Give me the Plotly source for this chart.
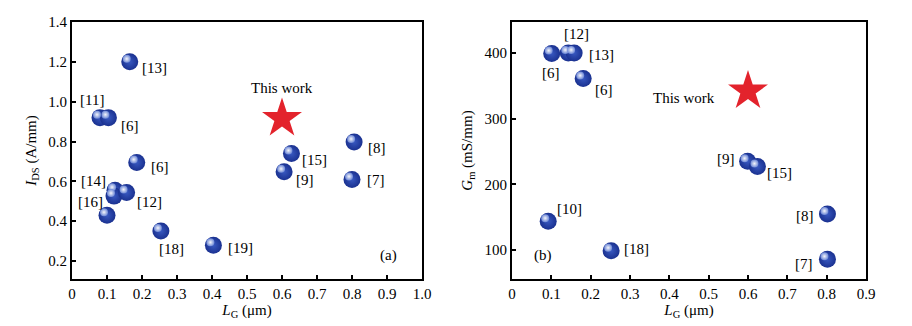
import plotly.graph_objects as go

# ---- panel (a): saturation current density vs gate length ----
a_refs = ["[13]", "[11]", "[6]", "[6]", "[14]", "[16]", "[12]", "", "[18]", "[19]", "[15]", "[9]", "[8]", "[7]"]
a_lg = [0.165, 0.080, 0.104, 0.185, 0.123, 0.120, 0.156, 0.100, 0.254, 0.404, 0.627, 0.606, 0.806, 0.800]
a_ids = [1.20, 0.92, 0.92, 0.695, 0.556, 0.526, 0.544, 0.430, 0.351, 0.279, 0.740, 0.648, 0.798, 0.610]
a_this_lg = [0.60]
a_this_ids = [0.916]

# ---- panel (b): transconductance vs gate length ----
b_refs = ["[6]", "[12]", "[13]", "[6]", "[9]", "[15]", "[10]", "[18]", "[8]", "[7]"]
b_lg = [0.101, 0.143, 0.158, 0.181, 0.599, 0.624, 0.092, 0.252, 0.802, 0.802]
b_gm = [399, 400, 400, 361, 235, 227, 144, 99, 155, 86]
b_this_lg = [0.60]
b_this_gm = [342]

# label offsets (pixels) relative to each point
a_off = [(25, -6), (-8, 18), (22, -8), (23, -5), (-22, 9), (-24, -6), (23, -9), (0, 0),
         (11, -18), (27, -3), (23, -7), (21, -8), (23, -6), (24, -1)]
b_off = [(-1, -19), (8, 19), (27, -2), (21, -11), (-22, 2), (22, -6), (21, 12), (25, 2),
         (-22, -2), (-23, -5)]

FONT = "Liberation Serif"
FS = 15
BALL = "#1a3190"
BALL_MID = "#3858c0"
STAR = "#e3232c"

# axis geometry
XA = [72 / 912, 422 / 912]
XB = [512 / 912, 866 / 912]
YD = [1 - 279 / 326, 1 - 22 / 326]
xa_rng = [0, 1.0]
ya_rng = [0.11, 1.4]
xb_rng = [0, 0.9]
yb_rng = [56, 447]

# highlight shift (px) so that the glint sits at the upper-left of each ball
HL = 3.0
def shifted(rng, span_px, px, sign):
    d = (rng[1] - rng[0]) / span_px * px * sign
    return [rng[0] + d, rng[1] + d]

fig = go.Figure()

ball = dict(size=17, color=BALL, gradient=dict(type="radial", color=BALL_MID), line=dict(width=0))
glint = dict(size=8, color="#6f8ad8", gradient=dict(type="radial", color="#ffffff"),
             line=dict(width=0), opacity=0.95)

# panel (a)
fig.add_trace(go.Scatter(x=a_lg, y=a_ids, mode="markers", marker=ball, xaxis="x", yaxis="y",
                         showlegend=False, hoverinfo="skip"))
fig.add_trace(go.Scatter(x=a_lg, y=a_ids, mode="markers", marker=glint, xaxis="x3", yaxis="y3",
                         showlegend=False, hoverinfo="skip"))
fig.add_trace(go.Scatter(x=a_this_lg, y=a_this_ids, mode="markers",
                         marker=dict(symbol="star", size=30, color=STAR, line=dict(width=0)),
                         xaxis="x", yaxis="y", showlegend=False, hoverinfo="skip"))

# panel (b)
fig.add_trace(go.Scatter(x=b_lg, y=b_gm, mode="markers", marker=ball, xaxis="x2", yaxis="y2",
                         showlegend=False, hoverinfo="skip"))
fig.add_trace(go.Scatter(x=b_lg, y=b_gm, mode="markers", marker=glint, xaxis="x4", yaxis="y4",
                         showlegend=False, hoverinfo="skip"))
fig.add_trace(go.Scatter(x=b_this_lg, y=b_this_gm, mode="markers",
                         marker=dict(symbol="star", size=30, color=STAR, line=dict(width=0)),
                         xaxis="x2", yaxis="y2", showlegend=False, hoverinfo="skip"))

ann = []
for r, x, y, (dx, dy) in zip(a_refs, a_lg, a_ids, a_off):
    if r:
        ann.append(dict(x=x, y=y, xref="x", yref="y", text=r, showarrow=False, xshift=dx, yshift=dy))
for r, x, y, (dx, dy) in zip(b_refs, b_lg, b_gm, b_off):
    ann.append(dict(x=x, y=y, xref="x2", yref="y2", text=r, showarrow=False, xshift=dx, yshift=dy))
ann.append(dict(x=a_this_lg[0], y=a_this_ids[0], xref="x", yref="y", text="This work",
                showarrow=False, yshift=30))
ann.append(dict(x=b_this_lg[0], y=b_this_gm[0], xref="x2", yref="y2", text="This work",
                showarrow=False, xshift=-64, yshift=-7))
ann.append(dict(x=0.904, y=0.226, xref="x", yref="y", text="(a)", showarrow=False))
ann.append(dict(x=0.08, y=92, xref="x2", yref="y2", text="(b)", showarrow=False))

axis_common = dict(showline=True, linecolor="black", linewidth=1.8, mirror=True, ticks="inside",
                   ticklen=4, tickwidth=1.5, tickcolor="black", showgrid=False, zeroline=False,
                   tickfont=dict(family=FONT, size=FS, color="black"), automargin=False)

fig.update_layout(
    width=912, height=326,
    margin=dict(l=0, r=0, t=0, b=0),
    paper_bgcolor="white", plot_bgcolor="white",
    font=dict(family=FONT, size=FS, color="black"),
    annotations=ann,
    xaxis=dict(domain=XA, range=xa_rng, anchor="y",
               tickvals=[0, 0.1, 0.2, 0.3, 0.4, 0.5, 0.6, 0.7, 0.8, 0.9, 1.0],
               ticktext=["0", "0.1", "0.2", "0.3", "0.4", "0.5", "0.6", "0.7", "0.8", "0.9", "1.0"],
               title=dict(text="<i>L</i><sub>G</sub> (μm)", standoff=2,
                          font=dict(family=FONT, size=FS)),
               **axis_common),
    yaxis=dict(domain=YD, range=ya_rng, anchor="x",
               tickvals=[0.2, 0.4, 0.6, 0.8, 1.0, 1.2, 1.4],
               ticktext=["0.2", "0.4", "0.6", "0.8", "1.0", "1.2", "1.4"],
               title=dict(text="<i>I</i><sub>DS</sub> (A/mm)", standoff=8,
                          font=dict(family=FONT, size=FS)),
               **axis_common),
    xaxis2=dict(domain=XB, range=xb_rng, anchor="y2",
                tickvals=[0, 0.1, 0.2, 0.3, 0.4, 0.5, 0.6, 0.7, 0.8, 0.9],
                ticktext=["0", "0.1", "0.2", "0.3", "0.4", "0.5", "0.6", "0.7", "0.8", "0.9"],
                title=dict(text="<i>L</i><sub>G</sub> (μm)", standoff=2,
                           font=dict(family=FONT, size=FS)),
                **axis_common),
    yaxis2=dict(domain=YD, range=yb_rng, anchor="x2",
                tickvals=[100, 200, 300, 400],
                title=dict(text="<i>G</i><sub>m</sub> (mS/mm)", standoff=8,
                           font=dict(family=FONT, size=FS)),
                **axis_common),
    # hidden overlay axes used for the ball highlights
    xaxis3=dict(domain=XA, range=shifted(xa_rng, 350, HL, +1), overlaying="x", visible=False, anchor="y3"),
    yaxis3=dict(domain=YD, range=shifted(ya_rng, 257, HL, -1), overlaying="y", visible=False, anchor="x3"),
    xaxis4=dict(domain=XB, range=shifted(xb_rng, 354, HL, +1), overlaying="x2", visible=False, anchor="y4"),
    yaxis4=dict(domain=YD, range=shifted(yb_rng, 257, HL, -1), overlaying="y2", visible=False, anchor="x4"),
)

fig.write_html("out.html")
